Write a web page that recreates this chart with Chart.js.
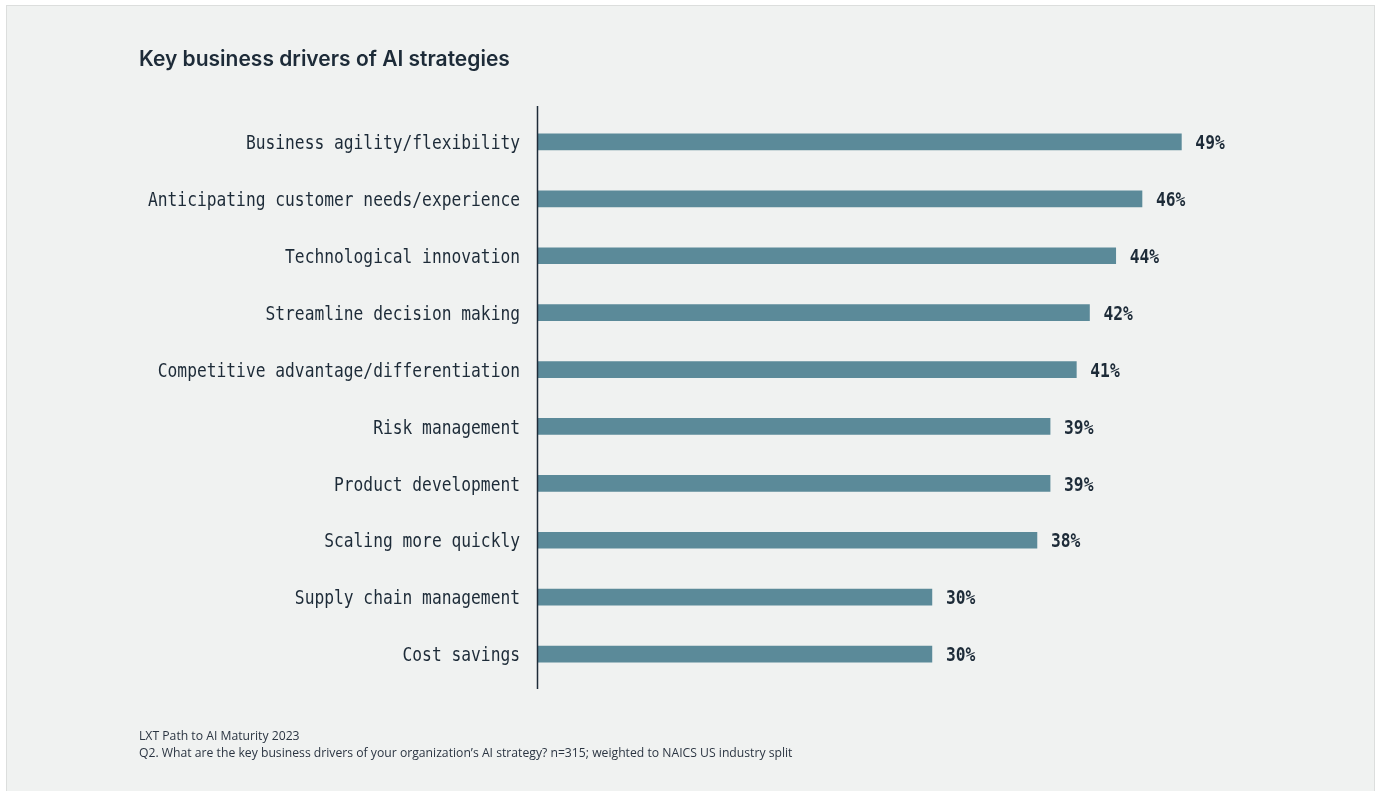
<!DOCTYPE html>
<html>
<head>
<meta charset="utf-8">
<script src="https://cdn.jsdelivr.net/npm/chart.js@4"></script>
<style>
    html, body { margin: 0; padding: 0; background: #ffffff; }
    #frame {
        position: absolute; left: 6px; top: 5px; width: 1369px; height: 800px;
        background: #f0f2f1; border: 1px solid #dcdedd; box-sizing: border-box;
    }
    #myChart { position: absolute; left: 0; top: 0; }
    #title {
        position: absolute; left: 139px; top: 46px;
        font-family: 'Inter', sans-serif; font-weight: 600; font-size: 21px;
        color: #1d2b38; white-space: nowrap;
    }
    #source {
        position: absolute; left: 139px; top: 728px;
        font-family: 'Open Sans', sans-serif; font-size: 12.2px; line-height: 16.5px;
        color: #2b3542; white-space: nowrap;
    }
</style>
</head>
<body>
<div id="frame"></div>
<canvas id="myChart" width="1377" height="791"></canvas>
<div id="title">Key business drivers of AI strategies</div>
<div id="source">LXT Path to AI Maturity 2023<br>Q2. What are the key business drivers of your organization’s AI strategy? n=315; weighted to NAICS US industry split</div>

<script>
var labels = [
    'Business agility/flexibility',
    'Anticipating customer needs/experience',
    'Technological innovation',
    'Streamline decision making',
    'Competitive advantage/differentiation',
    'Risk management',
    'Product development',
    'Scaling more quickly',
    'Supply chain management',
    'Cost savings'
];
var values = [49, 46, 44, 42, 41, 39, 39, 38, 30, 30];

var textColor = '#1d2b38';
var barColor = '#5b8a99';

// condensed mono text: DejaVu Sans Mono squeezed horizontally
function drawCondensed(ctx, text, x, y, align, bold) {
    var squeeze = 0.813;
    ctx.save();
    ctx.font = (bold ? 'bold ' : '') + '20px "DejaVu Sans Mono"';
    ctx.fillStyle = textColor;
    ctx.textBaseline = 'middle';
    ctx.textAlign = align;
    ctx.translate(x, y + 2);
    ctx.scale(squeeze, 1);
    ctx.fillText(text, 0, 0);
    ctx.restore();
}

var labelPlugin = {
    id: 'labelPlugin',
    afterDatasetsDraw: function (chart) {
        var ctx = chart.ctx;
        var xScale = chart.scales.x;
        var yScale = chart.scales.y;
        var area = chart.chartArea;

        // axis line
        ctx.save();
        ctx.strokeStyle = textColor;
        ctx.lineWidth = 1.5;
        ctx.beginPath();
        ctx.moveTo(area.left - 0.5, area.top - 7.5);
        ctx.lineTo(area.left - 0.5, area.bottom + 6.5);
        ctx.stroke();
        ctx.restore();

        for (var i in labels) {
            var y = yScale.getPixelForValue(Number(i));
            drawCondensed(ctx, labels[i], area.left - 18, y, 'right', false);
            drawCondensed(ctx, values[i] + '%', xScale.getPixelForValue(values[i]) + 14, y, 'left', true);
        }
    }
};

var ctx = document.getElementById("myChart").getContext('2d');
var myChart = new Chart(ctx, {
    type: 'bar',
    data: {
        labels: labels,
        datasets: [{
            label: 'Key business drivers',
            data: values,
            backgroundColor: barColor,
            barThickness: 16
        }]
    },
    options: {
        indexAxis: 'y',
        responsive: false,
        devicePixelRatio: 1,
        animation: false,
        layout: {
            padding: { left: 538, top: 113.5, right: 182.5, bottom: 108.5 }
        },
        scales: {
            x: { display: false, min: 0, max: 50 },
            y: { display: false }
        },
        plugins: {
            legend: { display: false },
            tooltip: { enabled: false }
        }
    },
    plugins: [labelPlugin]
});
</script>
</body>
</html>
